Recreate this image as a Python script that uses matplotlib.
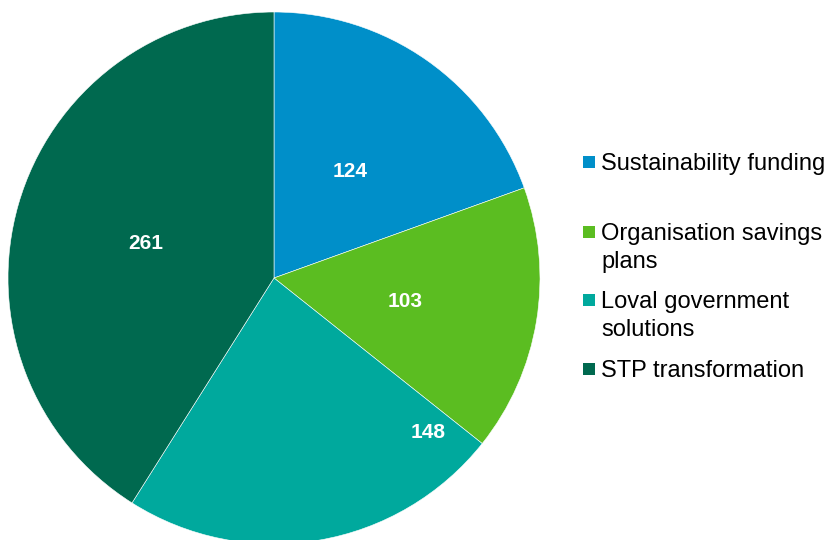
import matplotlib.pyplot as plt
from matplotlib.patches import Rectangle

categories = ["Sustainability funding", "Organisation savings\nplans",
              "Loval government\nsolutions", "STP transformation"]
values = [124, 103, 148, 261]
colors = ["#008fc9", "#5bbd21", "#00a99d", "#00694f"]

plt.rcParams['font.family'] = ['Liberation Sans', 'DejaVu Sans']

fig = plt.figure(figsize=(8.29, 5.40), dpi=100)
ax = fig.add_axes([8 / 829, -4 / 540, 532 / 829, 532 / 540])

wedges, texts, autotexts = ax.pie(
    values, colors=colors, startangle=90, counterclock=False,
    autopct=lambda p: "%d" % round(p * sum(values) / 100),
    pctdistance=0.5,
    wedgeprops=dict(edgecolor="white", linewidth=0.4),
    textprops=dict(color="white", fontsize=15, fontweight="bold"),
)
for t in autotexts:
    t.set_verticalalignment("center_baseline")
# the third label sits near the wedge edge in the original
autotexts[2].set_position((0.58, -0.575))
ax.set_xlim(-1, 1)
ax.set_ylim(-1, 1)
ax.set_aspect("equal")

# legend drawn by hand to match the uneven spacing
legend_y = [162, 232, 300, 369]
for label, col, y in zip(categories, colors, legend_y):
    fig.patches.append(Rectangle((583 / 829, 1 - (y + 6) / 540), 12 / 829, 12 / 540,
                                 transform=fig.transFigure, facecolor=col,
                                 edgecolor="none"))
    fig.text(601 / 829, 1 - (y - 9) / 540, label, fontsize=17, va="top",
             ha="left", color="#000000", linespacing=1.33)

fig.savefig("out.png", dpi=100)
